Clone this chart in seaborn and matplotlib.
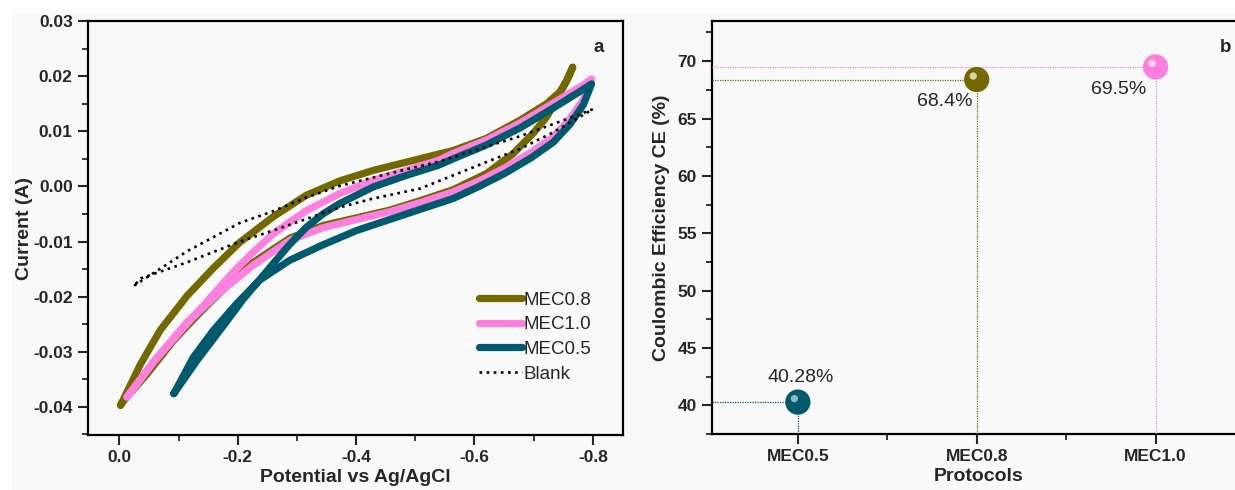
import matplotlib
matplotlib.use("Agg")
import matplotlib.pyplot as plt
from matplotlib.patches import Rectangle
from matplotlib.ticker import MultipleLocator
from matplotlib.transforms import ScaledTranslation
import seaborn as sns
import pandas as pd

# cyclic voltammetry loops (forward branch then return branch)
mec08_v = [-0.002, -0.036, -0.069, -0.114, -0.159, -0.203, -0.260, -0.316, -0.3725, -0.429, -0.485,
           -0.541, -0.564, -0.620, -0.677, -0.722, -0.744, -0.756, -0.766, -0.756, -0.744, -0.733,
           -0.722, -0.699, -0.665, -0.620, -0.564, -0.508, -0.457, -0.401, -0.344, -0.288, -0.226,
           -0.181, -0.136, -0.092, -0.047, -0.008, -0.002]
mec08_i = [-0.0397, -0.0322, -0.0261, -0.0199, -0.0148, -0.0102, -0.0055, -0.0016, 0.0010, 0.0029, 0.0044,
           0.0059, 0.0065, 0.0087, 0.0120, 0.0150, 0.0171, 0.0192, 0.0216, 0.0192, 0.0168, 0.0146,
           0.0126, 0.0096, 0.0059, 0.0023, -0.0006, -0.0026, -0.0043, -0.0057, -0.0071, -0.0094, -0.0138,
           -0.0181, -0.0229, -0.0279, -0.0340, -0.0388, -0.0397]

mec10_v = [-0.013, -0.058, -0.103, -0.148, -0.192, -0.2205, -0.260, -0.316, -0.3725, -0.429, -0.485,
           -0.541, -0.564, -0.620, -0.677, -0.733, -0.778, -0.798, -0.784, -0.761, -0.733, -0.696,
           -0.652, -0.608, -0.564, -0.513, -0.457, -0.401, -0.344, -0.288, -0.226, -0.170, -0.114,
           -0.058, -0.013]
mec10_i = [-0.0382, -0.0318, -0.0263, -0.0209, -0.0156, -0.0125, -0.0086, -0.0044, -0.0013, 0.0011, 0.0029,
           0.0048, 0.0060, 0.0084, 0.0115, 0.0151, 0.0180, 0.0195, 0.0158, 0.0122, 0.0090, 0.0062,
           0.0034, 0.0010, -0.0010, -0.0028, -0.0046, -0.0060, -0.0075, -0.0098, -0.0143, -0.0192, -0.0247,
           -0.0318, -0.0382]

mec05_v = [-0.092, -0.131, -0.170, -0.209, -0.260, -0.288, -0.316, -0.344, -0.3725, -0.429, -0.485,
           -0.541, -0.564, -0.620, -0.677, -0.733, -0.778, -0.798, -0.784, -0.761, -0.733, -0.696,
           -0.652, -0.608, -0.564, -0.513, -0.457, -0.401, -0.344, -0.288, -0.237, -0.198, -0.159,
           -0.125, -0.092]
mec05_i = [-0.0376, -0.0316, -0.0261, -0.0205, -0.0140, -0.0105, -0.0074, -0.0050, -0.0031, -0.0001, 0.0020,
           0.0039, 0.0050, 0.0075, 0.0106, 0.0142, 0.0172, 0.0186, 0.0148, 0.0112, 0.0080, 0.0052,
           0.0024, 0.0000, -0.0022, -0.0040, -0.0060, -0.0080, -0.0106, -0.0134, -0.0170, -0.0213, -0.0261,
           -0.0310, -0.0376]

blank_v = [-0.025, -0.114, -0.204, -0.260, -0.316, -0.3725, -0.429, -0.485, -0.541, -0.620, -0.677,
           -0.733, -0.778, -0.800, -0.778, -0.733, -0.677, -0.620, -0.564, -0.508, -0.429, -0.3725,
           -0.316, -0.260, -0.204, -0.114, -0.036, -0.025]
blank_i = [-0.0180, -0.0118, -0.0066, -0.0045, -0.0020, 0.0001, 0.0016, 0.0031, 0.0045, 0.0072, 0.0091,
           0.0113, 0.0131, 0.0140, 0.0126, 0.0098, 0.0068, 0.0044, 0.0020, -0.0004, -0.0022, -0.0038,
           -0.0059, -0.0080, -0.0100, -0.0138, -0.0167, -0.0180]

# coulombic efficiency per protocol
protocols = ["MEC0.5", "MEC0.8", "MEC1.0"]
ce = [40.28, 68.4, 69.5]
ce_labels = ["40.28%", "68.4%", "69.5%"]

olive = "#726900"
pink = "#ff7fe0"
teal = "#005a6d"
bg = "#f9f9f9"

sns.set_style("ticks")
plt.rcParams["font.family"] = ["Liberation Sans", "DejaVu Sans"]

fig = plt.figure(figsize=(12.35, 4.9), dpi=100, facecolor="white")
fig.patches.append(Rectangle((12 / 1235, 0), 1, 1 - 13 / 490, transform=fig.transFigure,
                             facecolor=bg, edgecolor="none", zorder=-10))

ax1 = fig.add_axes([88 / 1235, 55 / 490, 535 / 1235, 414 / 490])
ax2 = fig.add_axes([712 / 1235, 56 / 490, 533 / 1235, 413 / 490])

# ---- panel a: CV curves
curves = [("MEC0.8", mec08_v, mec08_i, olive),
          ("MEC1.0", mec10_v, mec10_i, pink),
          ("MEC0.5", mec05_v, mec05_i, teal)]
for name, v, i, c in curves:
    sns.lineplot(x=v, y=i, sort=False, estimator=None, ax=ax1, color=c, lw=5.2,
                 label=name, solid_capstyle="round", solid_joinstyle="round")
sns.lineplot(x=blank_v, y=blank_i, sort=False, estimator=None, ax=ax1, color="black",
             lw=1.9, linestyle=(0, (1, 1.7)), label="Blank")

ax1.set_xlim(0.053, -0.851)
ax1.set_ylim(-0.0451, 0.03)
ax1.xaxis.set_minor_locator(MultipleLocator(0.1))
ax1.yaxis.set_minor_locator(MultipleLocator(0.005))
ax1.set_xticks([0.0, -0.2, -0.4, -0.6, -0.8])
ax1.set_xticklabels(["0.0", "-0.2", "-0.4", "-0.6", "-0.8"])
ax1.set_yticks([0.03, 0.02, 0.01, 0.0, -0.01, -0.02, -0.03, -0.04])
ax1.set_yticklabels(["0.03", "0.02", "0.01", "0.00", "-0.01", "-0.02", "-0.03", "-0.04"])
ax1.set_xlabel("Potential vs Ag/AgCl", fontsize=14, fontweight="bold", labelpad=3)
ax1.set_ylabel("Current (A)", fontsize=14, fontweight="bold", labelpad=0)
ax1.text(0.955, 0.935, "a", transform=ax1.transAxes, fontsize=13.5, fontweight="bold", ha="center", va="center")
ax1.legend(loc="lower right", bbox_to_anchor=(0.965, 0.095), frameon=False, fontsize=13.5,
           handlelength=2.3, handletextpad=0.05, labelspacing=0.4, borderpad=0.2)

# ---- panel b: coulombic efficiency
df = pd.DataFrame({"Protocols": protocols, "CE": ce})
palette = {"MEC0.5": teal, "MEC0.8": olive, "MEC1.0": pink}
sns.scatterplot(data=df, x="Protocols", y="CE", hue="Protocols", palette=palette, s=330,
                edgecolor="none", legend=False, ax=ax2, zorder=5)
ax2.set_xlim(-0.48, 2.5)
ax2.set_ylim(37.5, 73.5)
hl = ax2.transData + ScaledTranslation(-2.5 / 72, 2.5 / 72, fig.dpi_scale_trans)
light = ["#8fb9c2", "#d8d3a8", "#ffd4f4"]
ax2.scatter(range(len(protocols)), ce, s=28, color=light, edgecolor="none", transform=hl, zorder=6)
for k, (val, c) in enumerate(zip(ce, [teal, olive, pink])):
    ax2.plot([-0.48, k], [val, val], color=c, lw=0.9, linestyle=(0, (1, 1)), zorder=3)
    ax2.plot([k, k], [37.5, val], color=c, lw=0.9, linestyle=(0, (1, 1)), zorder=3)
offsets = [(2, 18), (-3, -16), (-7, -16)]
aligns = ["center", "right", "right"]
for k, (val, lab) in enumerate(zip(ce, ce_labels)):
    ax2.annotate(lab, (k, val), xytext=offsets[k], textcoords="offset points",
                 ha=aligns[k], va="center", fontsize=14)
ax2.yaxis.set_major_locator(MultipleLocator(5))
ax2.yaxis.set_minor_locator(MultipleLocator(2.5))
ax2.xaxis.set_minor_locator(MultipleLocator(0.5))
ax2.set_xlabel("Protocols", fontsize=14, fontweight="bold", labelpad=3)
ax2.set_ylabel("Coulombic Efficiency CE (%)", fontsize=14, fontweight="bold", labelpad=5)
ax2.text(2.39, 71.15, "b", fontsize=13.5, fontweight="bold", ha="center", va="center")

for ax in (ax1, ax2):
    ax.set_facecolor(bg)
    for sp in ax.spines.values():
        sp.set_linewidth(1.6)
        sp.set_color("black")
    ax.tick_params(which="major", direction="out", length=7, width=1.5, labelsize=12.5, pad=4)
    ax.tick_params(which="minor", direction="out", length=4, width=1.3)
    for t in ax.get_xticklabels() + ax.get_yticklabels():
        t.set_fontweight("bold")

fig.savefig("out.png", dpi=100, facecolor=fig.get_facecolor())
